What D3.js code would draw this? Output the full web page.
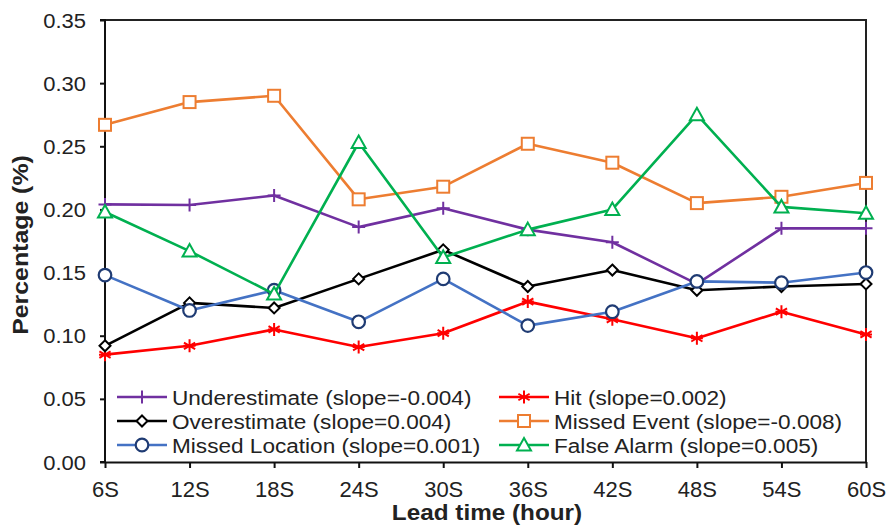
<!DOCTYPE html>
<html><head><meta charset="utf-8">
<script src="https://cdn.jsdelivr.net/npm/d3@7"></script>
<style>body{margin:0;background:#fff}svg{display:block}text{font-family:"Liberation Sans",Arial,sans-serif;fill:#222}</style>
</head><body>
<script>
const categories = ["6S","12S","18S","24S","30S","36S","42S","48S","54S","60S"];
const underestimate = [0.204,0.2035,0.211,0.186,0.201,0.184,0.174,0.141,0.185,0.185];
const hit = [0.085,0.092,0.105,0.091,0.102,0.127,0.113,0.098,0.119,0.101];
const overestimate = [0.092,0.126,0.122,0.145,0.168,0.139,0.152,0.136,0.139,0.141];
const missedEvent = [0.267,0.285,0.290,0.208,0.218,0.252,0.237,0.205,0.210,0.221];
const missedLocation = [0.148,0.120,0.136,0.111,0.145,0.108,0.119,0.143,0.142,0.150];
const falseAlarm = [0.198,0.167,0.133,0.253,0.162,0.184,0.200,0.275,0.202,0.197];
const yTicks = [0,0.05,0.10,0.15,0.20,0.25,0.30,0.35];
const seriesNames = ["Underestimate (slope=-0.004)","Hit (slope=0.002)","Overestimate (slope=0.004)","Missed Event (slope=-0.008)","Missed Location (slope=0.001)","False Alarm (slope=0.005)"];

const series = [
  {name:seriesNames[0], values:underestimate, color:"#7030A0", mstroke:"#7030A0", marker:"plus"},
  {name:seriesNames[1], values:hit, color:"#FF0000", mstroke:"#FF0000", marker:"star"},
  {name:seriesNames[2], values:overestimate, color:"#000000", mstroke:"#000000", marker:"diamond"},
  {name:seriesNames[3], values:missedEvent, color:"#ED7D31", mstroke:"#ED7D31", marker:"square"},
  {name:seriesNames[4], values:missedLocation, color:"#4472C4", mstroke:"#1F3B73", marker:"circle"},
  {name:seriesNames[5], values:falseAlarm, color:"#00B050", mstroke:"#00B050", marker:"triangle"}
];

const W=887,H=527, L=105, R=866, T=20, B=462, SX=1.13;
const svg=d3.select("body").append("svg").attr("width",W).attr("height",H);
const x=d3.scalePoint().domain(categories).range([L,R]);
const y=d3.scaleLinear().domain([0,0.35]).range([B,T]);

// box
svg.append("path").attr("d",`M${L},${T}H${R}V${B}`).attr("fill","none").attr("stroke","#222").attr("stroke-width",2);

// axes
const yAxis=svg.append("g").attr("transform",`translate(${L},0)`)
  .call(d3.axisLeft(y).tickValues(yTicks).tickSize(5).tickFormat(d3.format(".2f")));
yAxis.select(".domain").attr("stroke","#111").attr("stroke-width",2).attr("d",`M-5,${T}H0V${B}H-5`);
yAxis.selectAll(".tick line").attr("stroke","#111").attr("stroke-width",2);
yAxis.selectAll(".tick text").attr("font-size",20).attr("fill","#222")
  .attr("x",null).attr("dy",null)
  .attr("transform","translate(-19,7) scale(1.1,1.05)");

const xAxis=svg.append("g").attr("transform",`translate(0,${B})`)
  .call(d3.axisBottom(x).tickSize(6).tickSizeOuter(0));
xAxis.select(".domain").attr("stroke","#111").attr("stroke-width",2);
xAxis.selectAll(".tick line").attr("stroke","#111").attr("stroke-width",2);
xAxis.selectAll(".tick text").attr("font-size",20).attr("fill","#222")
  .attr("y",null).attr("dy",null)
  .attr("transform","translate(0,35) scale(1.1,1.1)");

// titles
svg.append("text").attr("text-anchor","middle").attr("font-weight","bold").attr("font-size",21.5).attr("fill","#111")
  .attr("transform",`translate(487,520) scale(${SX},1)`).text("Lead time (hour)");
svg.append("text").attr("text-anchor","middle").attr("font-weight","bold").attr("font-size",22).attr("fill","#111")
  .attr("transform",`translate(28,245) rotate(-90) scale(${SX},1)`).text("Percentage (%)");

function marker(g, type, stroke){
  const sw=2;
  if(type==="plus"){
    g.append("path").attr("d","M-6.5,0H6.5M0,-6.5V6.5").attr("stroke",stroke).attr("stroke-width",sw);
  } else if(type==="star"){
    g.append("path").attr("d","M0,-6.5V6.5M-5.6,-3.25L5.6,3.25M-5.6,3.25L5.6,-3.25M-6,0H6").attr("stroke",stroke).attr("stroke-width",sw);
  } else if(type==="diamond"){
    g.append("path").attr("d","M0,-5.5L5.5,0L0,5.5L-5.5,0Z").attr("fill","#fff").attr("stroke",stroke).attr("stroke-width",sw);
  } else if(type==="square"){
    g.append("rect").attr("x",-6).attr("y",-6).attr("width",12).attr("height",12).attr("fill","#fff").attr("stroke",stroke).attr("stroke-width",sw);
  } else if(type==="circle"){
    g.append("circle").attr("r",6.3).attr("fill","#fff").attr("stroke",stroke).attr("stroke-width",2.2);
  } else if(type==="triangle"){
    g.append("path").attr("d","M0,-7L7,5.5L-7,5.5Z").attr("fill","#fff").attr("stroke",stroke).attr("stroke-width",sw);
  }
}

const line=d3.line().x((d,i)=>x(categories[i])).y(d=>y(d));
series.forEach(s=>{
  const g=svg.append("g");
  g.append("path").datum(s.values).attr("d",line).attr("fill","none").attr("stroke",s.color).attr("stroke-width",2.6).attr("stroke-linejoin","round");
  g.selectAll("g.m").data(s.values).enter().append("g").attr("class","m")
    .attr("transform",(d,i)=>`translate(${x(categories[i])},${y(d)})`)
    .each(function(){ marker(d3.select(this), s.marker, s.mstroke); });
});

// legend (row-major, 2 columns)
const legCols=[117,499], legRows=[397,421,445];
series.forEach((s,i)=>{
  const cx=legCols[i%2], cy=legRows[Math.floor(i/2)];
  const g=svg.append("g");
  g.append("line").attr("x1",cx).attr("x2",cx+50).attr("y1",cy).attr("y2",cy).attr("stroke",s.color).attr("stroke-width",2.6);
  const mg=g.append("g").attr("transform",`translate(${cx+25},${cy})`);
  marker(mg, s.marker, s.mstroke);
  g.append("text").attr("font-size",20).attr("fill","#222")
    .attr("transform",`translate(${cx+55},${cy+7.5}) scale(${SX},1.02)`).text(s.name);
});
</script>
</body></html>
